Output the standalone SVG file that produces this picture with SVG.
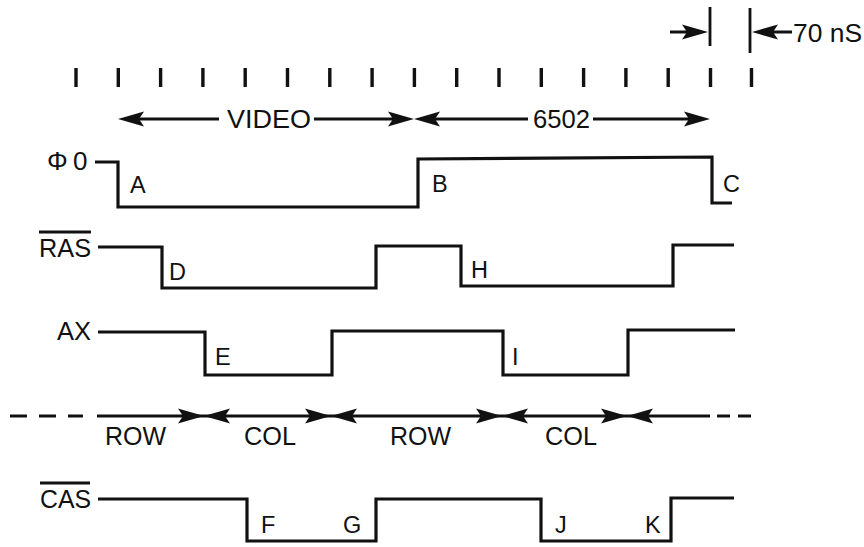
<svg xmlns="http://www.w3.org/2000/svg" xmlns:xlink="http://www.w3.org/1999/xlink" width="864" height="547" viewBox="0 0 864 547">
<style>
.w{fill:none;stroke:#111;stroke-width:3.2;stroke-linejoin:miter;stroke-linecap:butt}
.l{fill:none;stroke:#111;stroke-width:2.8}
.t{font-family:"Liberation Sans",Arial,sans-serif;font-size:26px;fill:#111}
.s{font-family:"Liberation Sans",Arial,sans-serif;font-size:23.5px;fill:#111}
.ah{fill:#111}
</style>
<defs>
<path id="ah" d="M0,0 L-26,-7.5 L-21,0 L-26,7.5 Z"/>
</defs>
<rect width="864" height="547" fill="#fff"/>

<g id="ticks" class="l" style="stroke-width:3.4">
<path d="M76,68V87M118.3,68V87M160.6,68V87M202.9,68V87M245.2,68V87M287.5,68V87M329.8,68V87M372.1,68V87M414.4,68V87M456.7,68V87M499,68V87M541.3,68V87M583.6,68V87M625.9,68V87M668.2,68V87M710.5,68V87M751.5,68V87"/>
</g>

<g id="timing-70ns">
<path class="l" d="M710,7V46M750,8V53"/>
<text class="t" x="793" y="42" textLength="69" lengthAdjust="spacingAndGlyphs">70 nS</text>
</g>

<g id="phi0">
<text class="t" x="47" y="170">Φ<tspan x="73">0</tspan></text>
<path class="w" d="M95,162H118V207H418V159L712,157V203H732"/>
<text class="s" x="130" y="193">A</text>
<text class="s" x="432" y="192">B</text>
<text class="s" x="723" y="192">C</text>
</g>

<g id="ras">
<text class="t" x="39" y="257" textLength="52" lengthAdjust="spacingAndGlyphs">RAS</text>
<path class="l" d="M39,232H91"/>
<path class="w" d="M98,247H162V288H376V246H461V286H673V245H734"/>
<text class="s" x="169" y="280">D</text>
<text class="s" x="471" y="278">H</text>
</g>

<g id="ax">
<text class="t" x="57" y="340" textLength="34" lengthAdjust="spacingAndGlyphs">AX</text>
<path class="w" d="M98,332H205V375H332V331H503V375H628V330H735"/>
<text class="s" x="215" y="365">E</text>
<text class="s" x="512" y="365">I</text>
</g>

<g id="address-bus">
<text class="t" x="105" y="445" textLength="61" lengthAdjust="spacingAndGlyphs">ROW</text>
<text class="t" x="244" y="445" textLength="52" lengthAdjust="spacingAndGlyphs">COL</text>
<text class="t" x="390" y="445" textLength="61" lengthAdjust="spacingAndGlyphs">ROW</text>
<text class="t" x="545" y="445" textLength="52" lengthAdjust="spacingAndGlyphs">COL</text>
</g>

<g id="cas">
<text class="t" x="40" y="508" textLength="51" lengthAdjust="spacingAndGlyphs">CAS</text>
<path class="l" d="M40,483H90"/>
<path class="w" d="M98,499H247V541H376V499H541V541H671V498H734"/>
<text class="s" x="261" y="533">F</text>
<text class="s" x="343" y="533">G</text>
<text class="s" x="555" y="533">J</text>
<text class="s" x="645" y="533">K</text>
</g>

<g id="connectors">
<path class="l" d="M670,32H700M760,32H792"/>
<use href="#ah" class="ah" transform="translate(708,32)"/>
<use href="#ah" class="ah" transform="translate(752,32) scale(-1,1)"/>
<path class="l" d="M126,119H219M314,119H406M422,119H528M593,119H702"/>
<use href="#ah" class="ah" transform="translate(118,119) scale(-1,1)"/>
<use href="#ah" class="ah" transform="translate(414,119)"/>
<use href="#ah" class="ah" transform="translate(414,119) scale(-1,1)"/>
<use href="#ah" class="ah" transform="translate(710,119)"/>
<text class="t" x="227" y="128" textLength="84" lengthAdjust="spacingAndGlyphs">VIDEO</text>
<text class="t" x="533" y="128" textLength="57" lengthAdjust="spacingAndGlyphs">6502</text>
<path class="l" d="M10,416H83" stroke-dasharray="17,12"/>
<path class="l" d="M97,416H710"/>
<path class="l" d="M717,416H755" stroke-dasharray="13,8"/>
<use href="#ah" class="ah" transform="translate(204,416)"/>
<use href="#ah" class="ah" transform="translate(204,416) scale(-1,1)"/>
<use href="#ah" class="ah" transform="translate(331,416)"/>
<use href="#ah" class="ah" transform="translate(331,416) scale(-1,1)"/>
<use href="#ah" class="ah" transform="translate(502,416)"/>
<use href="#ah" class="ah" transform="translate(502,416) scale(-1,1)"/>
<use href="#ah" class="ah" transform="translate(627,416)"/>
<use href="#ah" class="ah" transform="translate(627,416) scale(-1,1)"/>
</g>
</svg>
